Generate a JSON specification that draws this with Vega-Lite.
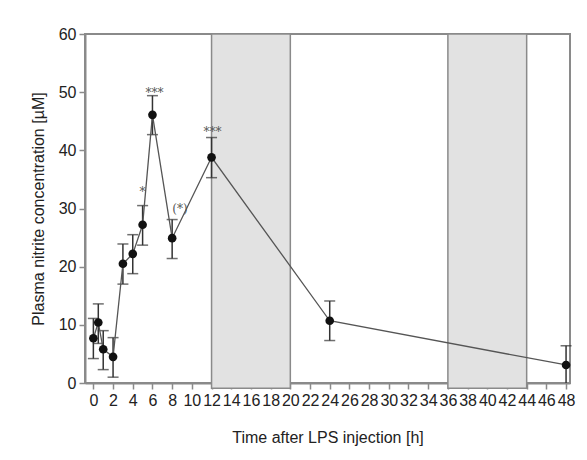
{
  "$schema": "https://vega.github.io/schema/vega-lite/v6.json",
  "width": 485,
  "height": 349,
  "autosize": {"type": "none"},
  "padding": {"left": 85, "top": 34, "right": 17, "bottom": 77},
  "background": "white",
  "config": {
    "font": "Liberation Sans",
    "view": {"stroke": "#8a8a8a", "strokeWidth": 2},
    "axis": {
      "domainColor": "#8a8a8a",
      "domainWidth": 2,
      "tickColor": "#8a8a8a",
      "tickWidth": 1.5,
      "tickSize": 6,
      "labelColor": "#222",
      "labelFontSize": 16,
      "labelFont": "Liberation Sans",
      "labelOverlap": false,
      "titleFont": "Liberation Sans",
      "titleFontSize": 16,
      "titleFontWeight": "normal",
      "titleColor": "#222",
      "grid": false
    },
    "axisX": {"labelOverlap": false, "labelSeparation": 0},
    "axisQuantitative": {"labelOverlap": false}
  },
  "datasets": {
    "obs": [
      {"t": 0, "mean": 7.7, "lo": 4.2, "hi": 11.1},
      {"t": 0.5, "mean": 10.4, "lo": 6.8, "hi": 13.6},
      {"t": 1, "mean": 5.8, "lo": 2.3, "hi": 9.0},
      {"t": 2, "mean": 4.5, "lo": 1.0, "hi": 7.8},
      {"t": 3, "mean": 20.5, "lo": 17.0, "hi": 23.9},
      {"t": 4, "mean": 22.2, "lo": 18.8, "hi": 25.5},
      {"t": 5, "mean": 27.2, "lo": 23.7, "hi": 30.5},
      {"t": 6, "mean": 46.1, "lo": 42.7, "hi": 49.4},
      {"t": 8, "mean": 24.9, "lo": 21.4, "hi": 28.1},
      {"t": 12, "mean": 38.8, "lo": 35.3, "hi": 42.2},
      {"t": 24, "mean": 10.7, "lo": 7.3, "hi": 14.1},
      {"t": 48, "mean": 3.1, "lo": 0, "hi": 6.4}
    ],
    "dark": [
      {"start": 12, "end": 20},
      {"start": 36, "end": 44}
    ],
    "sig": [
      {"t": 5, "y": 33.4, "label": "*"},
      {"t": 6.2, "y": 50.3, "label": "***"},
      {"t": 8.8, "y": 30.4, "label": "(*)"},
      {"t": 12.1, "y": 43.6, "label": "***"}
    ]
  },
  "layer": [
    {
      "data": {"name": "dark"},
      "mark": {"type": "rect", "fill": "#e2e2e2", "stroke": "#8a8a8a", "strokeWidth": 1.5},
      "encoding": {
        "x": {"field": "start", "type": "quantitative",
          "scale": {"domain": [-0.85, 48.4], "nice": false, "zero": false},
          "axis": {"values": [0,2,4,6,8,10,12,14,16,18,20,22,24,26,28,30,32,34,36,38,40,42,44,46,48], "labelOverlap": false, "labelPadding": 3, "title": "Time after LPS injection [h]", "titlePadding": 21}},
        "x2": {"field": "end"},
        "y": {"datum": 60, "type": "quantitative",
          "scale": {"domain": [0, 60], "nice": false},
          "axis": {"values": [0,10,20,30,40,50,60], "labelOverlap": false, "labelPadding": 3, "title": "Plasma nitrite concentration [µM]", "titlePadding": 12}},
        "y2": {"datum": -0.9}
      }
    },
    {
      "data": {"name": "obs"},
      "mark": {"type": "rule", "color": "#333", "strokeWidth": 1.5},
      "encoding": {
        "x": {"field": "t", "type": "quantitative", "axis": {"values": [0,2,4,6,8,10,12,14,16,18,20,22,24,26,28,30,32,34,36,38,40,42,44,46,48], "labelOverlap": false, "labelPadding": 3, "title": "Time after LPS injection [h]", "titlePadding": 21}},
        "y": {"field": "lo", "type": "quantitative"},
        "y2": {"field": "hi"}
      }
    },
    {
      "data": {"name": "obs"},
      "mark": {"type": "tick", "color": "#333", "thickness": 1.5, "size": 11, "orient": "horizontal"},
      "encoding": {
        "x": {"field": "t", "type": "quantitative", "axis": {"values": [0,2,4,6,8,10,12,14,16,18,20,22,24,26,28,30,32,34,36,38,40,42,44,46,48], "labelOverlap": false, "labelPadding": 3, "title": "Time after LPS injection [h]", "titlePadding": 21}},
        "y": {"field": "hi", "type": "quantitative"}
      }
    },
    {
      "data": {"name": "obs"},
      "transform": [{"filter": "datum.lo > 0"}],
      "mark": {"type": "tick", "color": "#333", "thickness": 1.5, "size": 11, "orient": "horizontal"},
      "encoding": {
        "x": {"field": "t", "type": "quantitative", "axis": {"values": [0,2,4,6,8,10,12,14,16,18,20,22,24,26,28,30,32,34,36,38,40,42,44,46,48], "labelOverlap": false, "labelPadding": 3, "title": "Time after LPS injection [h]", "titlePadding": 21}},
        "y": {"field": "lo", "type": "quantitative"}
      }
    },
    {
      "data": {"name": "obs"},
      "mark": {"type": "line", "color": "#555", "strokeWidth": 1.3},
      "encoding": {
        "x": {"field": "t", "type": "quantitative", "axis": {"values": [0,2,4,6,8,10,12,14,16,18,20,22,24,26,28,30,32,34,36,38,40,42,44,46,48], "labelOverlap": false, "labelPadding": 3, "title": "Time after LPS injection [h]", "titlePadding": 21}},
        "y": {"field": "mean", "type": "quantitative"},
        "order": {"field": "t"}
      }
    },
    {
      "data": {"name": "obs"},
      "mark": {"type": "point", "filled": true, "color": "#111", "opacity": 1, "size": 75},
      "encoding": {
        "x": {"field": "t", "type": "quantitative", "axis": {"values": [0,2,4,6,8,10,12,14,16,18,20,22,24,26,28,30,32,34,36,38,40,42,44,46,48], "labelOverlap": false, "labelPadding": 3, "title": "Time after LPS injection [h]", "titlePadding": 21}},
        "y": {"field": "mean", "type": "quantitative"}
      }
    },
    {
      "data": {"name": "sig"},
      "mark": {"type": "text", "font": "DejaVu Serif", "fontSize": 12, "fill": "#555", "baseline": "middle", "align": "center", "dy": 3},
      "encoding": {
        "x": {"field": "t", "type": "quantitative", "axis": {"values": [0,2,4,6,8,10,12,14,16,18,20,22,24,26,28,30,32,34,36,38,40,42,44,46,48], "labelOverlap": false, "labelPadding": 3, "title": "Time after LPS injection [h]", "titlePadding": 21}},
        "y": {"field": "y", "type": "quantitative"},
        "text": {"field": "label"}
      }
    }
  ]
}
